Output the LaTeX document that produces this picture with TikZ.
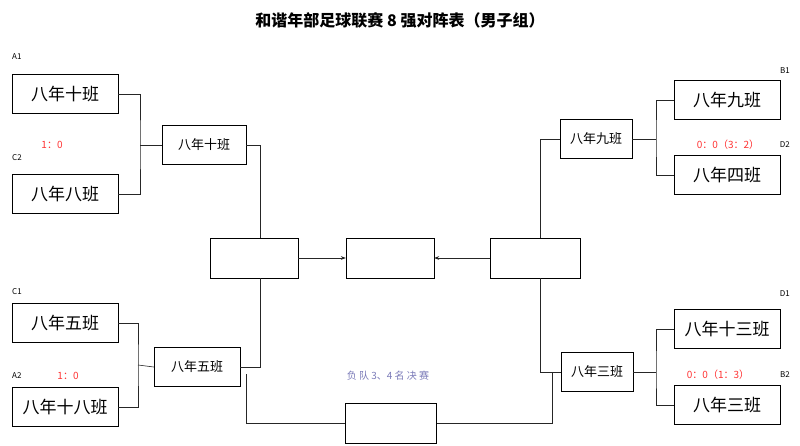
\documentclass[tikz,border=0pt]{standalone}
\usepackage{fontspec}
\setmainfont{Noto Sans CJK SC}
\usetikzlibrary{arrows.meta}
\tikzstyle{team} = [rectangle, minimum width=106pt, minimum height=39pt, draw=black, font=\fontsize{17}{17}\selectfont, inner sep=0pt]
\tikzstyle{win} = [rectangle, minimum height=39pt, draw=black, font=\fontsize{13}{13}\selectfont, inner sep=0pt]
\tikzstyle{blank} = [rectangle, minimum width=88pt, minimum height=40pt, draw=black]
\tikzstyle{tag} = [font=\fontsize{8}{8}\selectfont, inner sep=0pt]
\tikzstyle{score} = [font=\fontsize{10}{10}\selectfont, text=red!80!white, inner sep=0pt]
\tikzstyle{line} = [draw=black!85, semithick]
\tikzstyle{arrow} = [line, -{Stealth[length=5pt]}]

\begin{document}
\begin{tikzpicture}[x=1pt, y=-1pt]
\useasboundingbox (0,0) rectangle (800,446);

\node[font=\fontsize{16}{16}\selectfont\bfseries] (title) at (400,20) {和谐年部足球联赛 8 强对阵表（男子组）};

% left half
\node (A1) [team] at (65,94) {八年十班};
\node (C2) [team] at (65,194) {八年八班};
\node (W1) [win, minimum width=84pt] at (204,145) {八年十班};
\node (C1) [team] at (65,323) {八年五班};
\node (A2) [team] at (65,407) {八年十八班};
\node (W2) [win, minimum width=86pt] at (197,367) {八年五班};
\node (SL) [blank] at (254,258) {};

% right half
\node (B1) [team] at (727,100) {八年九班};
\node (D2) [team] at (727,175) {八年四班};
\node (W3) [win, minimum width=72pt] at (596,139) {八年九班};
\node (D1) [team] at (727,329) {八年十三班};
\node (B2) [team] at (727,405) {八年三班};
\node (W4) [win, minimum width=72pt] at (597,372) {八年三班};
\node (SR) [blank, minimum width=90pt] at (535,258) {};

% final and third place
\node (F) [blank] at (390,258) {};
\node (T) [blank, minimum width=91pt] at (391,423) {};
\node[font=\fontsize{10}{10}\selectfont, text=blue!30!gray!80!white] (Tlab) at (388,376) {负\ 队\ 3、4\ 名\ 决\ 赛};

% tags and scores
\node[tag, anchor=west] (tA1) at (12,57) {A1};
\node[tag, anchor=west] (tC2) at (12,158) {C2};
\node[tag, anchor=west] (tC1) at (12,292) {C1};
\node[tag, anchor=west] (tA2) at (12,376) {A2};
\node[tag, anchor=east] (tB1) at (790,71) {B1};
\node[tag, anchor=east] (tD2) at (790,145) {D2};
\node[tag, anchor=east] (tD1) at (790,294) {D1};
\node[tag, anchor=east] (tB2) at (790,375) {B2};
\node[score] (s1) at (52,145) {1：0};
\node[score] (s2) at (68,376) {1：0};
\node[score] (s3) at (728,145) {0：0（3：2）};
\node[score] (s4) at (718,375) {0：0（1：3）};

% brackets
\draw[line] (A1.east) -| (140,145) |- (C2.east);
\draw[line] (140,145) -- (W1.west);
\draw[line] (W1.east) -| (SL.north -| 260,0);
\draw[line] (C1.east) -| (138,365) |- (A2.east);
\draw[line] (138,365) -- (W2.west);
\draw[line] (SL.south -| 260,0) |- (W2.east);
\draw[line] (246,374) |- (T.west);

\draw[line] (B1.west) -| (656,139) |- (D2.west);
\draw[line] (656,139) -- (W3.east);
\draw[line] (SR.north -| 540,0) |- (W3.west);
\draw[line] (D1.west) -| (656,372) |- (B2.west);
\draw[line] (656,372) -- (W4.east);
\draw[line] (SR.south -| 540,0) |- (W4.west);
\draw[line] (T.east) -| (552,372);

\draw[arrow] (SL.east) -- (F.west);
\draw[arrow] (SR.west) -- (F.east);
\end{tikzpicture}
\end{document}
